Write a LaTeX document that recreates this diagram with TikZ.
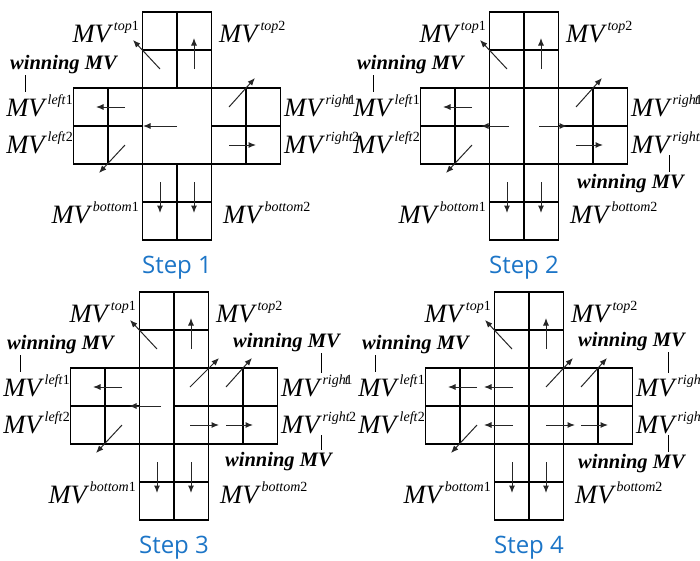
\documentclass[tikz,border=0pt]{standalone}
\usepackage{fontspec}
\setmainfont{Liberation Serif}
\newfontfamily\stepfont{Open Sans}
\usetikzlibrary{arrows.meta}
\definecolor{stepblue}{RGB}{28,117,199}
\newcommand\mvsup[1]{\textit{MV}\kern0.5pt\raisebox{12pt}{\fontsize{14}{14}\selectfont #1}}
\tikzset{
  grid/.style={line width=1.2pt, line join=miter},
  mvarrow/.style={line width=1pt, draw=black!85, -{Latex[length=7.5pt,width=6pt]}},
  mvlabel/.style={inner sep=0pt, font=\fontsize{26.5}{29}\selectfont},
  winlabel/.style={inner sep=0pt, font=\fontsize{20.5}{22}\selectfont\bfseries\itshape},
  steplabel/.style={inner sep=0pt, text=stepblue, font=\fontsize{24}{26}\stepfont},
  tickline/.style={line width=0.9pt, shorten <=1.5pt, shorten >=1.5pt},
}
\newcommand\crossgrid{%
  \draw[grid] (-34.5,-114) -- (34.5,-114) -- (34.5,-38) -- (103.5,-38) -- (103.5,38)
    -- (34.5,38) -- (34.5,114) -- (-34.5,114) -- (-34.5,38) -- (-103.5,38)
    -- (-103.5,-38) -- (-34.5,-38) -- cycle;
  \draw[grid] (-34.5,-38) -- (34.5,-38) (-34.5,38) -- (34.5,38)
    (-34.5,-38) -- (-34.5,38) (34.5,-38) -- (34.5,38);
  \draw[grid] (0,-114) -- (0,-38) (-34.5,-76) -- (34.5,-76);
  \draw[grid] (0,38) -- (0,114) (-34.5,76) -- (34.5,76);
  \draw[grid] (-69,-38) -- (-69,38) (-103.5,0) -- (-34.5,0);
  \draw[grid] (69,-38) -- (69,38) (34.5,0) -- (103.5,0);
}
\newcommand\commonarrows{%
  \draw[mvarrow] (-17,-57) -- (-44,-86);
  \draw[mvarrow] (17,-57) -- (17,-88);
  \draw[mvarrow] (-52,-19) -- (-81,-19);
  \draw[mvarrow] (-52,19) -- (-78,47);
  \draw[mvarrow] (52,-19) -- (78,-48);
  \draw[mvarrow] (52,19) -- (79,19);
  \draw[mvarrow] (-17,56) -- (-17,87);
  \draw[mvarrow] (17,56) -- (17,87);
}
% #1 step number, #2 x of left tick
\newcommand\commonlabels[2]{%
  \node[mvlabel, anchor=base east] (top1) at (-38,-84) {\mvsup{\textit{top}1}};
  \node[mvlabel, anchor=base west] (top2) at (42,-84) {\mvsup{\textit{top}2}};
  \node[mvlabel, anchor=base east] (left1) at (-104,-10) {\mvsup{\textit{left}1}};
  \node[mvlabel, anchor=base east] (left2) at (-104,27) {\mvsup{\textit{left}2}};
  \node[mvlabel, anchor=base west] (right1) at (107,-10) {\mvsup{\textit{righ}\kern-1pt\textit{t}\kern-3.5pt 1}};
  \node[mvlabel, anchor=base west] (right2) at (107,27) {\mvsup{\textit{right}\kern-1pt 2}};
  \node[mvlabel, anchor=base east] (bot1) at (-38,97) {\mvsup{\textit{bottom}1}};
  \node[mvlabel, anchor=base west] (bot2) at (46,97) {\mvsup{\textit{bottom}2}};
  \node[winlabel, anchor=base west] (winL) at (-167,-57) {winning MV};
  \coordinate (tickL) at (#2,0);
  \draw[tickline] (winL.south -| tickL) -- (left1.north -| tickL);
  \node[steplabel, anchor=base] (step) at (0,147) {Step #1};
}
\begin{document}
\begin{tikzpicture}[x=1pt, y=-1pt]
\useasboundingbox (0,0) rectangle (700,560);
% Step 1
\begin{scope}[shift={(177,126)}, name prefix=a-]
  \crossgrid
  \commonarrows
  \commonlabels{1}{-152}
  \draw[mvarrow] (0,0) -- (-34,0);
\end{scope}
% Step 2
\begin{scope}[shift={(524,126)}, name prefix=b-]
  \crossgrid
  \draw[grid] (0,-38) -- (0,38);
  \commonarrows
  \commonlabels{2}{-151}
  \draw[mvarrow] (-15,0) -- (-43,0);
  \draw[mvarrow] (15,0) -- (43,0);
  \node[winlabel, anchor=base west] (winR) at (53,62) {winning MV};
  \coordinate (tickR) at (145,0);
  \draw[tickline] (right2.south -| tickR) -- (winR.north -| tickR);
\end{scope}
% Step 3
\begin{scope}[shift={(174,406)}, name prefix=c-]
  \crossgrid
  \draw[grid] (0,-38) -- (0,38) (0,0) -- (34.5,0);
  \commonarrows
  \commonlabels{3}{-154}
  \draw[mvarrow] (-13,0) -- (-45,0);
  \draw[mvarrow] (16,-19) -- (45,-48);
  \draw[mvarrow] (16,19) -- (45,19);
  \node[winlabel, anchor=base west] (winU) at (59,-59) {winning MV};
  \node[winlabel, anchor=base west] (winR) at (51,60) {winning MV};
  \coordinate (tickR) at (147,0);
  \draw[tickline] (winU.south -| tickR) -- (right1.north -| tickR);
  \draw[tickline] (right2.south -| tickR) -- (winR.north -| tickR);
\end{scope}
% Step 4
\begin{scope}[shift={(529,406)}, name prefix=d-]
  \crossgrid
  \draw[grid] (0,-38) -- (0,38) (-34.5,0) -- (34.5,0);
  \commonarrows
  \commonlabels{4}{-154}
  \draw[mvarrow] (-16,-19) -- (-45,-19);
  \draw[mvarrow] (-16,19) -- (-45,19);
  \draw[mvarrow] (17,-19) -- (44,-48);
  \draw[mvarrow] (17,19) -- (46,19);
  \node[winlabel, anchor=base west] (winU) at (49,-60) {winning MV};
  \node[winlabel, anchor=base west] (winR) at (49,62) {winning MV};
  \coordinate (tickR) at (139,0);
  \draw[tickline] (winU.south -| tickR) -- (right1.north -| tickR);
  \draw[tickline] (right2.south -| tickR) -- (winR.north -| tickR);
\end{scope}
\end{tikzpicture}
\end{document}
